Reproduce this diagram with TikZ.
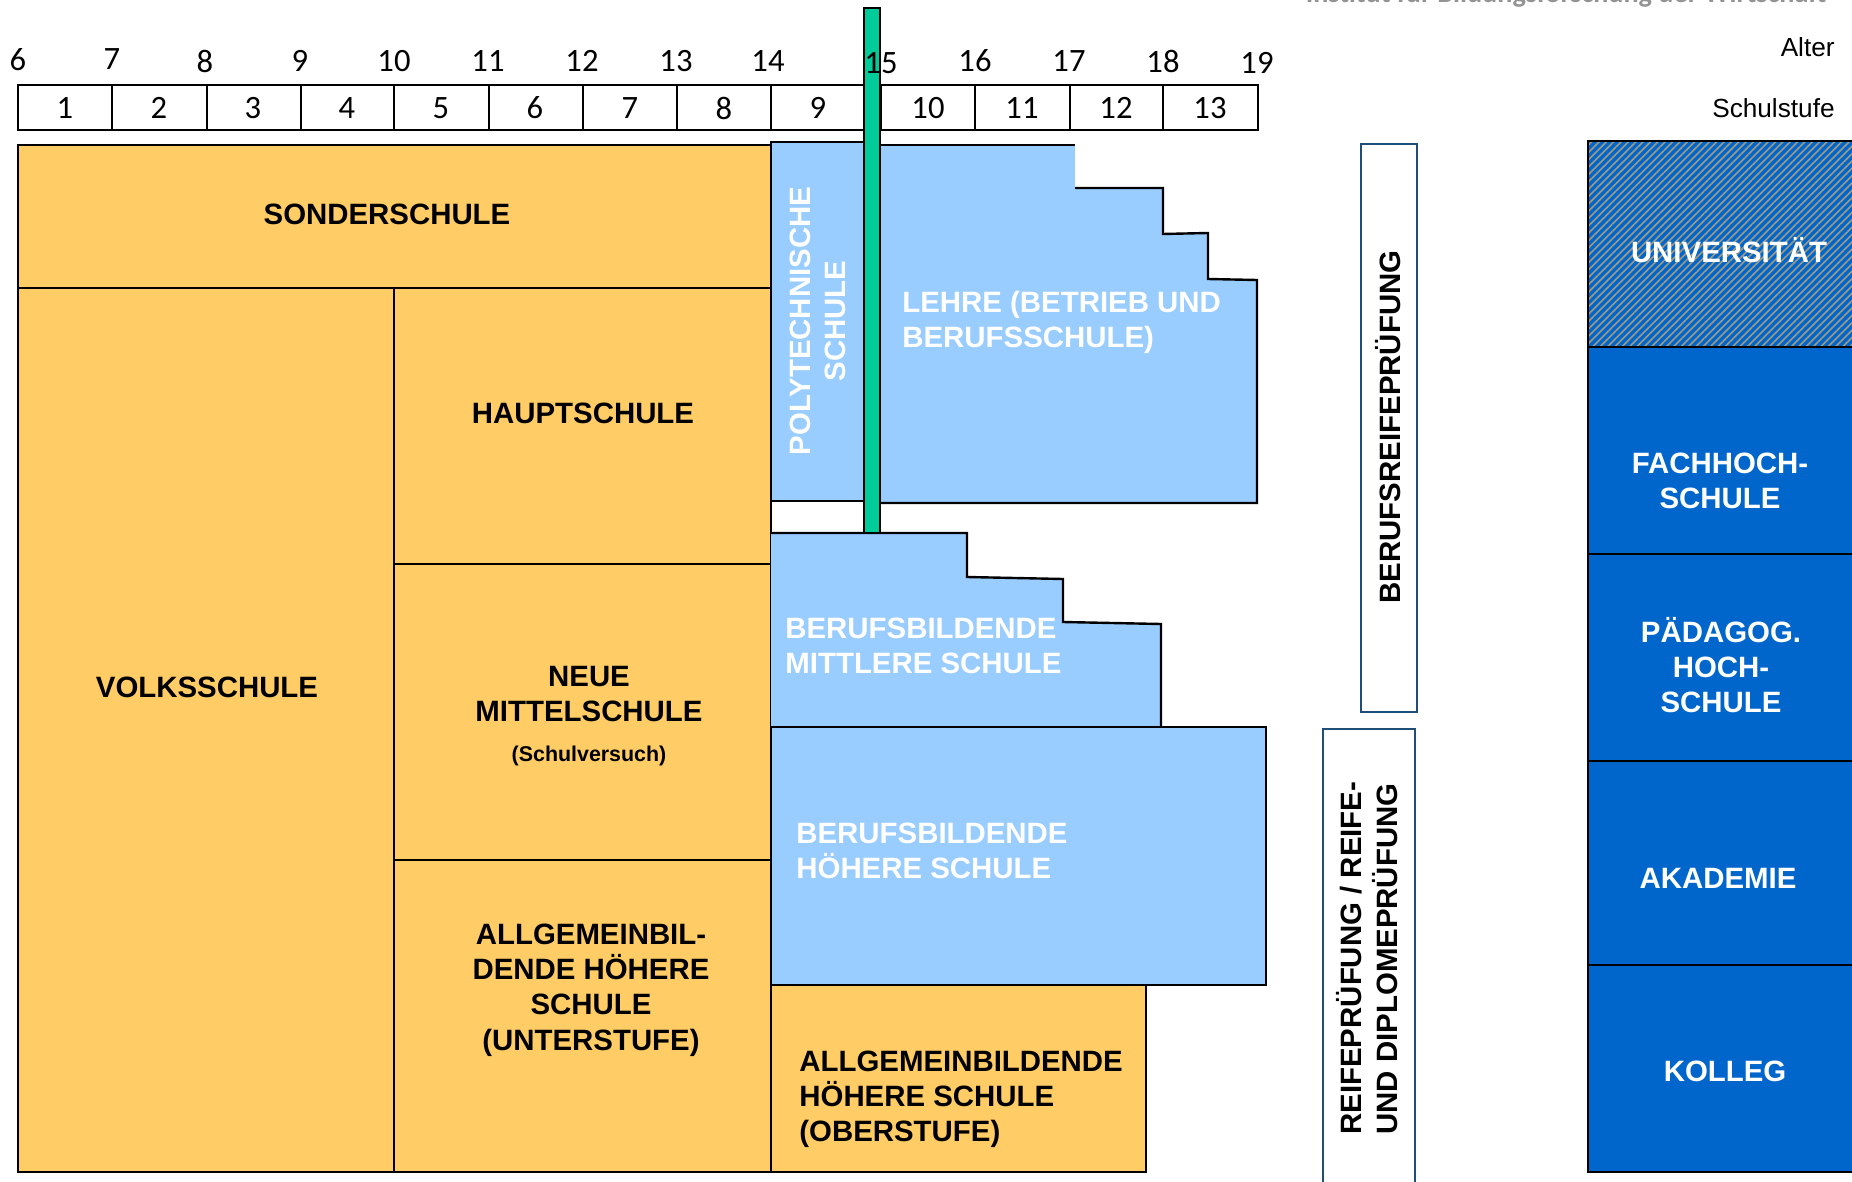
\documentclass[tikz,border=0pt]{standalone}
\usepackage{fontspec}
\setmainfont{Liberation Sans}
\newfontfamily\numfont{Carlito}
\usetikzlibrary{patterns.meta}
\definecolor{orangebox}{HTML}{FFCC66}
\definecolor{lightblue}{HTML}{99CCFF}
\definecolor{deepblue}{HTML}{0066CC}
\definecolor{greenbar}{HTML}{00CC99}
\definecolor{examline}{HTML}{1F4E79}
\definecolor{hatch}{HTML}{A29A80}
\tikzset{
  x=0.5pt,y=-0.5pt,
  edge/.style={draw=black,line width=1.2pt},
  orange/.style={edge,fill=orangebox},
  pale/.style={fill=lightblue},
  deep/.style={edge,fill=deepblue},
  exam/.style={draw=examline,line width=1.1pt,fill=white},
  cell/.style={draw=black,line width=1.1pt},
  num/.style={font=\numfont\fontsize{16.3}{18}\selectfont,inner sep=0pt,text=black},
  lab/.style={font=\fontsize{14.7}{17.6}\selectfont\bfseries,inner sep=0pt,align=center,text=black},
  wlab/.style={lab,text=white},
  side/.style={font=\fontsize{13.1}{15}\selectfont,inner sep=0pt,anchor=east,text=black},
}
\begin{document}
\begin{tikzpicture}
\clip (0,0) rectangle (1852,1182);
\fill[white] (0,0) rectangle (1852,1182);
% cut-off header
\node[name=header,font=\numfont\fontsize{14.1}{16}\selectfont\bfseries,text=gray!85,inner sep=0pt,anchor=base] at (1566,3) {Institut für Bildungsforschung der Wirtschaft};
% grade cells
\foreach \a/\b in {18/112,112/207,207/301,301/394,394/489,489/583,583/677,677/771,771/866,881/975,975/1070,1070/1163,1163/1258}
  \draw[cell] (\a,85) rectangle (\b,130);
% orange blocks
\draw[orange] (18,145) rectangle (771,288);
\draw[orange] (18,288) rectangle (394,1172);
\draw[orange] (394,288) rectangle (771,564);
\draw[orange] (394,564) rectangle (771,860);
\draw[orange] (394,860) rectangle (771,1172);
\draw[orange] (771,985) rectangle (1146,1172);
% Polytechnische
\draw[edge,fill=lightblue] (771,142) rectangle (864,501);
% Lehre
\fill[pale] (881,145) -- (1075,145) -- (1075,188) -- (1163,188) -- (1163,234) -- (1208,233) -- (1208,279) -- (1257,280) -- (1257,503) -- (881,503) -- cycle;
\draw[edge] (881,145) -- (1075,145);
\draw[edge] (1075,188) -- (1163,188) -- (1163,234) -- (1208,233) -- (1208,279) -- (1257,280) -- (1257,503) -- (881,503);
% BMS
\fill[pale] (771,533) -- (967,533) -- (967,577) -- (1063,579) -- (1063,622) -- (1161,624) -- (1161,727) -- (771,727) -- cycle;
\draw[edge] (771,533) -- (967,533) -- (967,577) -- (1063,579) -- (1063,622) -- (1161,624) -- (1161,727);
% BHS
\draw[edge,fill=lightblue] (771,727) rectangle (1266,985);
% green bar
\draw[edge,fill=greenbar] (864,8) rectangle (880,533);
% exam bars
\draw[exam] (1361,144) rectangle (1417,712);
\draw[exam] (1323,729) rectangle (1415,1200);
% right column
\draw[edge,preaction={fill=deepblue},pattern={Lines[angle=45,distance=2.6pt,line width=0.8pt]},pattern color=hatch] (1588,141) rectangle (1870,347);
\draw[deep] (1588,347) rectangle (1870,554);
\draw[deep] (1588,554) rectangle (1870,761);
\draw[deep] (1588,761) rectangle (1870,965);
\draw[deep] (1588,965) rectangle (1870,1172);
% ages
\foreach \t/\x/\y in {6/18/60,7/112/59,8/205/61,9/300/61,10/394/61,11/488/61,12/582/61,13/676/61,14/768/61,15/881/63,16/975/61,17/1069/61,18/1163/61,19/1257/63}
  \node[num,name=age\t] at (\x,\y) {\t};
% grades
\foreach \t/\x in {1/65,2/159,3/253,4/347,5/441,6/535,7/630,8/724,9/818,10/928,11/1022,12/1116,13/1210}
  \node[num,name=grade\t] at (\x,108) {\t};
% side labels
\node[side,name=alter] at (1835,47) {Alter};
\node[side,name=schulstufe] at (1835,108) {Schulstufe};
% labels
\node[lab,name=sonder] at (387,214) {SONDERSCHULE};
\node[lab,name=volks] at (207,687) {VOLKSSCHULE};
\node[lab,name=haupt] at (583,413) {HAUPTSCHULE};
\node[lab,name=neue] at (589,694) {NEUE\\MITTELSCHULE};
\node[lab,name=versuch,font=\fontsize{10.7}{13}\selectfont\bfseries] at (589,756) {(Schulversuch)};
\node[lab,name=ahsu] at (591,990) {ALLGEMEINBIL-\\DENDE HÖHERE\\SCHULE\\(UNTERSTUFE)};
\node[lab,name=ahso,align=left,anchor=west] at (799,1099) {ALLGEMEINBILDENDE\\HÖHERE SCHULE\\(OBERSTUFE)};
\node[wlab,name=poly,rotate=90] at (818,321) {POLYTECHNISCHE\\SCHULE};
\node[wlab,name=lehre,align=left,anchor=west] at (902,322) {LEHRE (BETRIEB UND\\BERUFSSCHULE)};
\node[wlab,name=bms,align=left,anchor=west] at (785,646) {BERUFSBILDENDE\\MITTLERE SCHULE};
\node[wlab,name=bhs,align=left,anchor=west] at (796,851) {BERUFSBILDENDE\\HÖHERE SCHULE};
\node[lab,name=brp,rotate=90] at (1388,427) {BERUFSREIFEPRÜFUNG};
\node[lab,name=rp,rotate=90,align=left,anchor=west] at (1367,1135) {REIFEPRÜFUNG / REIFE-\\UND DIPLOMEPRÜFUNG};
\node[wlab,name=uni] at (1729,250) {UNIVERSITÄT};
\node[wlab,name=fh] at (1720,481) {FACHHOCH-\\SCHULE};
\node[wlab,name=ph] at (1721,665) {PÄDAGOG.\\HOCH-\\SCHULE};
\node[wlab,name=akad] at (1718,878) {AKADEMIE};
\node[wlab,name=kolleg] at (1725,1071) {KOLLEG};
\end{tikzpicture}
\end{document}
